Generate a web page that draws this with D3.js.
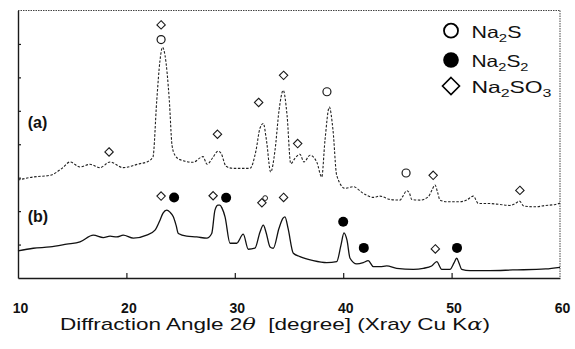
<!DOCTYPE html>
<html>
<head>
<meta charset="utf-8">
<script src="https://cdn.jsdelivr.net/npm/d3@7/dist/d3.min.js"></script>
<style>
  html, body { margin: 0; padding: 0; background: #fff; }
  svg { display: block; }
</style>
</head>
<body>
<svg id="chart" width="575" height="349"></svg>
<script>
// XRD patterns, 2θ in degrees vs. intensity (arbitrary units, traces offset)
const angleTicks = [10, 20, 30, 40, 50, 60];
const intensityTicks = [10, 20, 30, 40, 50, 60, 70];

// trace (a): [2θ, intensity]
const patternA = [
  [10.0,29.3],[11.38,30.2],[12.95,30.7],[14.06,32.8],[14.80,34.7],[15.72,33.2],[16.64,34.0],
  [17.56,33.0],[18.49,34.7],[19.69,33.0],[21.25,34.2],[21.90,34.7],[22.45,36.2],[22.80,53.1],
  [23.10,65.1],[23.33,69.0],[23.56,66.6],[23.96,53.1],[24.21,39.7],[24.48,36.7],[24.94,35.4],
  [26.14,34.6],[27.07,36.3],[27.44,34.0],[27.99,36.1],[28.45,37.9],[28.73,37.3],[29.19,33.4],
  [29.83,32.8],[31.40,32.8],[31.96,38.2],[32.32,44.8],[32.63,46.2],[32.92,41.2],[33.31,31.7],
  [33.71,38.2],[34.08,50.1],[34.47,56.1],[34.82,48.7],[35.16,34.2],[35.55,35.8],[36.01,37.0],
  [36.38,34.7],[36.94,36.7],[37.56,34.7],[38.02,30.2],[38.32,41.2],[38.72,51.1],[39.06,44.2],
  [39.40,30.7],[40.17,26.8],[40.93,27.3],[41.85,25.3],[42.78,24.1],[43.39,24.5],[44.32,23.5],
  [45.24,23.3],[45.51,24.5],[45.86,26.1],[46.11,25.4],[46.32,23.5],[47.08,23.3],[47.85,24.3],
  [48.19,26.3],[48.47,27.8],[48.70,25.7],[48.93,23.3],[49.55,22.8],[50.77,22.8],[51.39,23.3],
  [52.00,24.5],[52.46,22.3],[53.24,22.3],[54.44,22.0],[55.34,21.7],[55.94,22.4],[56.25,23.0],
  [56.68,21.5],[57.76,21.3],[58.67,21.7],[59.58,22.0],[60.0,22.4]
];

// trace (b): [2θ, intensity]
const patternB = [
  [10.0,8.1],[11.41,8.9],[12.95,9.3],[14.49,10.1],[15.72,10.8],[16.95,12.8],[17.87,12.1],
  [18.49,12.5],[19.11,12.3],[19.71,12.8],[20.64,11.9],[21.87,12.8],[22.64,14.3],[23.10,17.3],
  [23.38,19.4],[23.72,20.3],[24.02,19.7],[24.33,18.3],[24.58,15.8],[24.79,13.3],[25.56,12.5],
  [26.49,12.3],[27.41,11.9],[27.87,13.3],[28.17,20.3],[28.45,21.8],[28.63,21.8],[28.82,20.9],
  [29.10,18.3],[29.56,10.4],[30.17,10.4],[30.78,13.1],[31.24,8.6],[31.86,8.9],[32.32,13.7],
  [32.63,15.8],[32.88,13.7],[33.25,9.3],[33.55,8.9],[34.08,14.9],[34.45,17.9],[34.63,18.3],
  [34.91,14.9],[35.40,7.4],[36.01,6.4],[37.24,5.2],[38.48,4.6],[39.40,4.9],[39.80,9.9],
  [40.07,13.5],[40.35,11.3],[40.63,5.9],[41.25,4.2],[41.85,4.6],[42.31,5.2],[42.78,3.4],
  [43.39,3.4],[44.01,3.6],[44.93,2.9],[46.47,2.6],[47.39,2.9],[48.16,3.6],[48.63,4.9],
  [49.09,2.6],[49.85,2.6],[50.22,4.5],[50.47,5.9],[50.68,4.5],[50.93,2.6],[51.70,2.2],
  [53.54,2.2],[55.65,2.4],[58.67,2.7],[60.0,3.2]
];

// phase assignments: [2θ, marker height]
const na2sPeaks   = [[23.2,71.3],[38.5,55.7],[45.8,31.4]];
const na2s2Peaks  = [[24.4,24.1],[29.2,24.0],[40.0,16.8],[41.9,9.0],[50.5,9.0]];
const na2so3Peaks = [[23.2,75.7],[18.4,37.7],[28.4,43.0],[32.2,52.5],[34.5,60.6],[35.8,40.2],
                     [48.3,30.7],[56.3,26.2],
                     [23.2,24.5],[28.0,24.6],[32.5,22.5],[34.5,24.1],[48.5,8.7]];
const minorMarks  = [[32.8,23.9]];

const phaseNames = [["Na","2","S",""],["Na","2","S","2"],["Na","2","SO","3"]];
const traceLabels = ["(a)", "(b)"];

const svg = d3.select("#chart");
const m = { left: 18, right: 560, top: 10.5, bottom: 278 };

const x = d3.scaleLinear().domain([10, 60]).range([m.left, m.right]);
const y = d3.scaleLinear().domain([0, 80]).range([m.bottom, m.top]);

const ink = "#1a1a1a";
const sans = "'Liberation Sans', Arial, sans-serif";

// frame: solid left/bottom, dotted top/right
svg.append("line").attr("x1", m.left).attr("x2", m.right).attr("y1", m.top).attr("y2", m.top)
  .attr("stroke", "#444").attr("stroke-width", 1).attr("stroke-dasharray", "1.5,1");
svg.append("line").attr("x1", m.right).attr("x2", m.right).attr("y1", m.top).attr("y2", m.bottom)
  .attr("stroke", "#444").attr("stroke-width", 1).attr("stroke-dasharray", "1.5,1");

// x axis with inward ticks
const xAxis = d3.axisBottom(x).tickValues(angleTicks).tickSize(-5).tickSizeOuter(0).tickFormat(d3.format("d"));
const gx = svg.append("g").attr("transform", `translate(0,${m.bottom})`).call(xAxis)
  .attr("font-family", sans).attr("font-size", 14);
gx.select(".domain").attr("stroke", ink).attr("stroke-width", 1.4);
gx.selectAll(".tick line").attr("stroke", ink).attr("stroke-width", 1.2)
  .attr("display", d => (d === 10 || d === 60) ? "none" : null);
gx.selectAll(".tick text")
  .attr("y", 35).attr("dy", null).attr("dx", 2)
  .attr("fill", "#111")
  .style("font-weight", "bold");

// y axis with inward ticks, no labels
const yAxis = d3.axisLeft(y).tickValues(intensityTicks).tickSize(-3).tickSizeOuter(0).tickFormat("");
const gy = svg.append("g").attr("transform", `translate(${m.left},0)`).call(yAxis);
gy.select(".domain").attr("stroke", ink).attr("stroke-width", 1.4);
gy.selectAll(".tick line").attr("stroke", ink).attr("stroke-width", 1.2);

// diffraction traces
const line = d3.line().x(d => x(d[0])).y(d => y(d[1])).curve(d3.curveMonotoneX);
svg.append("path").datum(patternA).attr("d", line)
  .attr("fill", "none").attr("stroke", "#222").attr("stroke-width", 1.1)
  .attr("stroke-dasharray", "2.5,1.6");
svg.append("path").datum(patternB).attr("d", line)
  .attr("fill", "none").attr("stroke", "#111").attr("stroke-width", 1.3);

// phase markers
svg.selectAll("circle.na2s").data(na2sPeaks).join("circle")
  .attr("cx", d => x(d[0])).attr("cy", d => y(d[1])).attr("r", 4)
  .attr("fill", "#fff").attr("stroke", ink).attr("stroke-width", 1.2);
svg.selectAll("circle.na2s2").data(na2s2Peaks).join("circle")
  .attr("cx", d => x(d[0])).attr("cy", d => y(d[1])).attr("r", 5)
  .attr("fill", "#000");
const diamond = (cx, cy, h) => `M${cx},${cy - h}L${cx + h},${cy}L${cx},${cy + h}L${cx - h},${cy}Z`;
svg.selectAll("path.na2so3").data(na2so3Peaks).join("path")
  .attr("d", d => diamond(x(d[0]), y(d[1]), 4.2))
  .attr("fill", "#fff").attr("stroke", ink).attr("stroke-width", 1.1);
svg.selectAll("circle.minor").data(minorMarks).join("circle")
  .attr("cx", d => x(d[0])).attr("cy", d => y(d[1])).attr("r", 2.4)
  .attr("fill", "none").attr("stroke", ink).attr("stroke-width", 1);

// trace labels
svg.selectAll("text.trace").data(traceLabels).join("text")
  .attr("x", x(10.9)).attr("y", (d, i) => i === 0 ? 128 : 222)
  .attr("fill", "#111")
  .style("font-family", sans)
  .style("font-size", "16px").style("font-weight", "bold")
  .text(d => d);

// legend
const symX = 451, rows = [30.7, 60, 86];
const leg = svg.append("g");
leg.append("circle").attr("cx", symX).attr("cy", rows[0]).attr("r", 7)
  .attr("fill", "#fff").attr("stroke", "#000").attr("stroke-width", 1.8);
leg.append("circle").attr("cx", symX).attr("cy", rows[1]).attr("r", 7.8).attr("fill", "#000");
leg.append("path").attr("d", diamond(symX, rows[2], 8.5))
  .attr("fill", "#fff").attr("stroke", "#000").attr("stroke-width", 1.6);
const legWidths = [50, 57, 80];
phaseNames.forEach((p, i) => {
  const t = leg.append("text").attr("x", 471.5).attr("y", rows[i] + 7)
    .attr("fill", "#111")
    .attr("textLength", legWidths[i]).attr("lengthAdjust", "spacingAndGlyphs")
    .style("font-family", sans)
    .style("font-size", "16.5px");
  t.append("tspan").text(p[0]);
  t.append("tspan").attr("dy", 4).style("font-size", "11.5px").text(p[1]);
  t.append("tspan").attr("dy", -4).text(p[2]);
  if (p[3]) t.append("tspan").attr("dy", 4).style("font-size", "11.5px").text(p[3]);
});

// axis title
const title = svg.append("text").attr("x", 60).attr("y", 330)
  .attr("textLength", 430).attr("lengthAdjust", "spacingAndGlyphs")
  .attr("fill", "#111")
  .style("font-family", sans).style("font-size", "17px")
  .style("white-space", "pre");
title.append("tspan").text("Diffraction Angle 2");
title.append("tspan").style("font-family", "'DejaVu Serif', serif").style("font-style", "italic").text("θ");
title.append("tspan").text("\u00a0 [degree] (Xray Cu K");
title.append("tspan").style("font-family", "'DejaVu Serif', serif").style("font-style", "italic").text("α");
title.append("tspan").text(")");
</script>
</body>
</html>
